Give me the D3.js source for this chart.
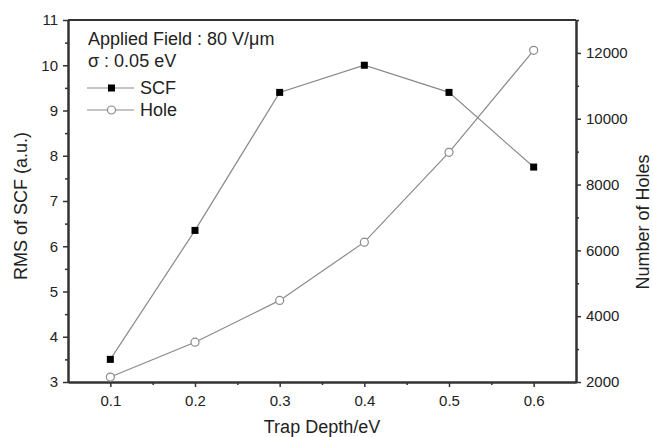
<!DOCTYPE html>
<html>
<head>
<meta charset="utf-8">
<script src="https://cdn.jsdelivr.net/npm/d3@7"></script>
<style>
body { margin: 0; background: #fff; }
svg { font-family: "Liberation Sans", Arial, sans-serif; }
</style>
</head>
<body>
<svg id="chart" width="653" height="437"></svg>
<script>
// trap depth (eV)
var depth = [0.1, 0.2, 0.3, 0.4, 0.5, 0.6];
var scfValues = [3.5, 6.35, 9.4, 10.0, 9.4, 7.75];
var holeValues = [2150, 3210, 4480, 6250, 8980, 12080];
var xTicks = [0.1, 0.2, 0.3, 0.4, 0.5, 0.6];
var leftTicks = [3, 4, 5, 6, 7, 8, 9, 10, 11];
var rightTicks = [2000, 4000, 6000, 8000, 10000, 12000];

var svg = d3.select('#chart');
var margin = {left: 68, right: 77, top: 20, bottom: 55};
var width = 653 - margin.left - margin.right;
var height = 437 - margin.top - margin.bottom;

var g = svg.append("g").attr("transform", "translate(" + margin.left + "," + margin.top + ")");

var xScale = d3.scaleLinear().domain([0.05, 0.65]).range([0, width]);
var yLeft = d3.scaleLinear().domain([3, 11]).range([height, 0]);
var yRight = d3.scaleLinear().domain([2000, 13000]).range([height, 0]);

var axisColor = "#333";

// frame top
g.append("line").attr("x1", 0).attr("x2", width).attr("y1", 0).attr("y2", 0)
	.attr("stroke", axisColor).attr("stroke-width", 2);

function styleAxis(sel){
	sel.select(".domain").attr("stroke", axisColor).attr("stroke-width", 2);
	sel.selectAll(".tick line").attr("stroke", axisColor).attr("stroke-width", 1.5);
	sel.selectAll(".tick text").attr("fill", "#222").style("font-size", "15px");
}

function midpoints(arr){
	var m = [];
	for (var i = 0; i < arr.length - 1; i++) m.push((arr[i] + arr[i+1]) / 2);
	return m;
}

// minor + major ticks
g.append("g").attr("transform", "translate(0," + height + ")")
	.call(d3.axisBottom(xScale).tickValues(midpoints(xTicks)).tickSize(3).tickFormat("").tickSizeOuter(0))
	.call(styleAxis);
g.append("g").attr("transform", "translate(0," + height + ")")
	.call(d3.axisBottom(xScale).tickValues(xTicks).tickSize(5).tickSizeOuter(0).tickPadding(8).tickFormat(d3.format(".1f")))
	.call(styleAxis);

g.append("g")
	.call(d3.axisLeft(yLeft).tickValues(midpoints(leftTicks)).tickSize(3).tickFormat("").tickSizeOuter(0))
	.call(styleAxis);
g.append("g")
	.call(d3.axisLeft(yLeft).tickValues(leftTicks).tickSize(5).tickSizeOuter(0).tickPadding(5))
	.call(styleAxis);

g.append("g").attr("transform", "translate(" + width + ",0)")
	.call(d3.axisRight(yRight).tickValues(midpoints(rightTicks).concat([13000])).tickSize(3).tickFormat("").tickSizeOuter(0))
	.call(styleAxis);
g.append("g").attr("transform", "translate(" + width + ",0)")
	.call(d3.axisRight(yRight).tickValues(rightTicks).tickSize(5).tickSizeOuter(0).tickPadding(5).tickFormat(d3.format("d")))
	.call(styleAxis);

var lineColor = "#8a8a8a";

var scfData = depth.map(function(d, i){ return {x: d, y: scfValues[i]}; });
var holeData = depth.map(function(d, i){ return {x: d, y: holeValues[i]}; });

var scfLine = d3.line().x(function(d){return xScale(d.x);}).y(function(d){return yLeft(d.y);});
var holeLine = d3.line().x(function(d){return xScale(d.x);}).y(function(d){return yRight(d.y);});

g.append("path").attr("d", holeLine(holeData)).attr("fill", "none").attr("stroke", lineColor).attr("stroke-width", 1.2);
g.append("path").attr("d", scfLine(scfData)).attr("fill", "none").attr("stroke", lineColor).attr("stroke-width", 1.2);

g.selectAll("rect.scf")
	.data(scfData)
	.enter().append("rect")
	.attr("class", "scf")
	.attr("x", function(d){return xScale(d.x) - 3.5;})
	.attr("y", function(d){return yLeft(d.y) - 3.5;})
	.attr("width", 7).attr("height", 7)
	.attr("fill", "#000");

g.selectAll("circle.hole")
	.data(holeData)
	.enter().append("circle")
	.attr("class", "hole")
	.attr("cx", function(d){return xScale(d.x);})
	.attr("cy", function(d){return yRight(d.y);})
	.attr("r", 4)
	.attr("fill", "#fff").attr("stroke", lineColor).attr("stroke-width", 1.2);

// legend
var leg = svg.append("g");
leg.append("text").attr("x", 88).attr("y", 45).style("font-size", "18px").attr("fill", "#222")
	.text("Applied Field : 80 V/\u03bcm");
leg.append("text").attr("x", 88).attr("y", 67).style("font-size", "18px").attr("fill", "#222")
	.text("\u03c3 : 0.05 eV");
leg.append("line").attr("x1", 87).attr("x2", 134).attr("y1", 88).attr("y2", 88).attr("stroke", lineColor).attr("stroke-width", 1.2);
leg.append("rect").attr("x", 108).attr("y", 84.5).attr("width", 7).attr("height", 7).attr("fill", "#000");
leg.append("text").attr("x", 140).attr("y", 94).style("font-size", "18px").attr("fill", "#222").text("SCF");
leg.append("line").attr("x1", 87).attr("x2", 134).attr("y1", 110).attr("y2", 110).attr("stroke", lineColor).attr("stroke-width", 1.2);
leg.append("circle").attr("cx", 111.5).attr("cy", 110).attr("r", 4).attr("fill", "#fff").attr("stroke", lineColor).attr("stroke-width", 1.2);
leg.append("text").attr("x", 140).attr("y", 116).style("font-size", "18px").attr("fill", "#222").text("Hole");

// axis titles
svg.append("text").attr("x", 322).attr("y", 433).attr("text-anchor", "middle")
	.style("font-size", "18px").attr("fill", "#222").text("Trap Depth/eV");
svg.append("text").attr("transform", "translate(27,206) rotate(-90)")
	.attr("text-anchor", "middle").style("font-size", "18px").attr("fill", "#222").text("RMS of SCF (a.u.)");
svg.append("text").attr("transform", "translate(649,222) rotate(-90)")
	.attr("text-anchor", "middle").style("font-size", "18px").attr("fill", "#222").text("Number of Holes");
</script>
</body>
</html>
